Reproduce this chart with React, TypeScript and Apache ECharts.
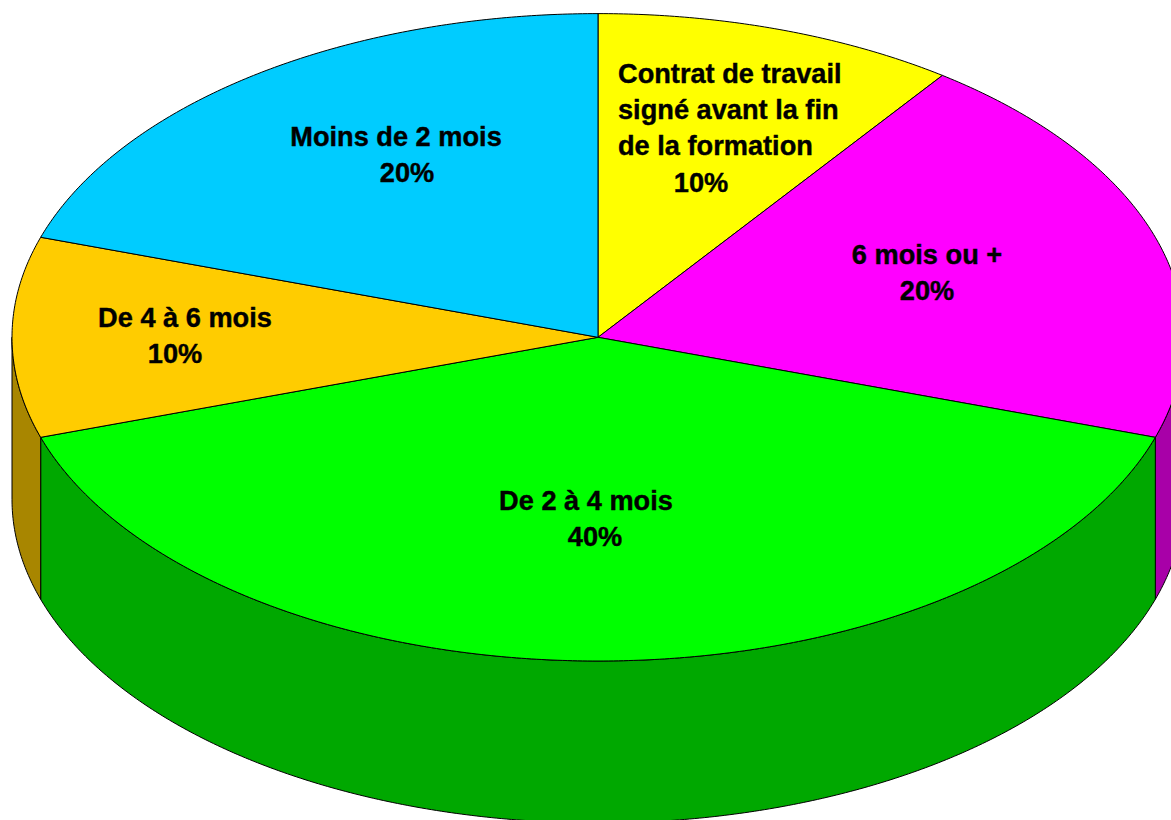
import React, { useEffect, useRef } from "react";
import * as echarts from "echarts";

// Data: clockwise from twelve o'clock
const categoryLines = [
  ["Contrat de travail", "signé avant la fin", "de la formation"],
  ["6 mois ou +"],
  ["De 2 à 4 mois"],
  ["De 4 à 6 mois"],
  ["Moins de 2 mois"],
];
const shares = [10, 20, 40, 10, 20];
const topColors = ["#FFFF00", "#FF00FF", "#00FF00", "#FFCC00", "#00CCFF"];
const sideColors = ["#A8A800", "#A800A8", "#00A800", "#A88600", "#0086A8"];

// Layout of the tilted pie
const CX = 598;
const CY = 337.3;
const RX = 586;
const RY = 323.7;
const DEPTH = 162;
const FONT_SIZE = 27.2;
// Each slice's label lines, the last being the percentage: [x, y, align]
const labelLayout: [number, number, string][][] = [
  [[618, 73, "left"], [618, 109, "left"], [618, 145, "left"], [701, 182, "center"]],
  [[927, 254, "center"], [927, 290, "center"]],
  [[586, 500, "center"], [595, 536, "center"]],
  [[185, 317, "center"], [175, 353, "center"]],
  [[396, 136, "center"], [407, 172, "center"]],
];

const total = shares.reduce((a, b) => a + b, 0);
const startAngle = (i: number) =>
  (shares.slice(0, i).reduce((a, b) => a + b, 0) / total) * 360;

function rimPoint(deg: number, dy = 0): number[] {
  const r = (deg * Math.PI) / 180;
  return [CX + RX * Math.sin(r), CY - RY * Math.cos(r) + dy];
}

function arcPoints(from: number, to: number, dy = 0): number[][] {
  const n = Math.max(2, Math.ceil((to - from) * 2));
  const pts: number[][] = [];
  for (let k = 0; k <= n; k++) pts.push(rimPoint(from + ((to - from) * k) / n, dy));
  return pts;
}

const lineStyle = { stroke: "#000000", lineWidth: 1, lineJoin: "round" };

function renderSide(params: any, api: any) {
  const i = params.dataIndex;
  const a0 = startAngle(i);
  const a1 = a0 + (api.value(0) / total) * 360;
  // Only the part of the rim facing the viewer (90°..270°) has a visible wall.
  const from = Math.max(a0, 90);
  const to = Math.min(a1, 270);
  if (to <= from) return { type: "group", children: [] };
  const points = [...arcPoints(from, to), ...arcPoints(from, to, DEPTH).reverse()];
  return {
    type: "polygon",
    shape: { points },
    style: { fill: sideColors[i], ...lineStyle },
  };
}

function renderTop(params: any, api: any) {
  const i = params.dataIndex;
  const value = api.value(0);
  const a0 = startAngle(i);
  const a1 = a0 + (value / total) * 360;
  const points = [[CX, CY], ...arcPoints(a0, a1)];
  const lines = [...categoryLines[i], `${value}%`];
  return {
    type: "group",
    children: [
      {
        type: "polygon",
        shape: { points },
        style: { fill: topColors[i], ...lineStyle },
      },
      ...lines.map((text, k) => ({
        type: "text",
        x: labelLayout[i][k][0],
        y: labelLayout[i][k][1],
        z2: 10,
        style: {
          text,
          fill: "#000000",
          stroke: "#000000",
          lineWidth: 0.4,
          fontFamily: '"Liberation Sans", Arial, sans-serif',
          fontWeight: "bold",
          fontSize: FONT_SIZE,
          align: labelLayout[i][k][2],
          verticalAlign: "middle",
        },
      })),
    ],
  };
}

export default function App() {
  const ref = useRef<HTMLDivElement>(null);

  useEffect(() => {
    const chart = echarts.init(ref.current!, null, { renderer: "svg" });
    const data = shares.map((v, i) => ({ name: categoryLines[i].join(" "), value: [v] }));
    chart.setOption({
      animation: false,
      backgroundColor: "#FFFFFF",
      series: [
        {
          type: "custom",
          name: "Côtés",
          coordinateSystem: "none",
          silent: true,
          clip: false,
          renderItem: renderSide,
          data,
        },
        {
          type: "custom",
          name: "Parts",
          coordinateSystem: "none",
          silent: true,
          clip: false,
          renderItem: renderTop,
          data,
        },
      ],
    });
    return () => chart.dispose();
  }, []);

  return (
    <div
      ref={ref}
      style={{ position: "fixed", left: 0, top: 0, width: 1171, height: 820, overflow: "hidden" }}
    />
  );
}
